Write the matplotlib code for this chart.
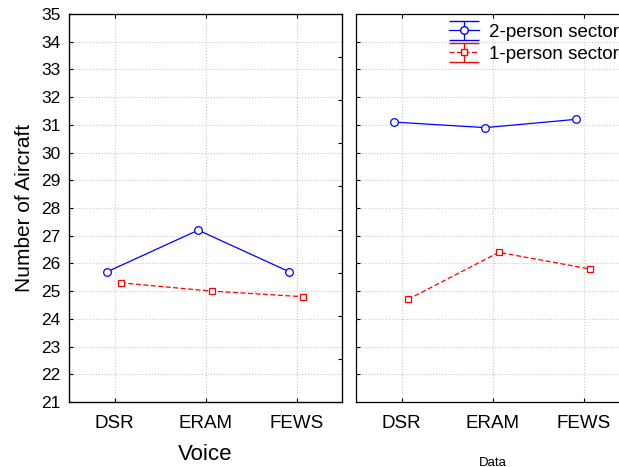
import numpy as np
import matplotlib
matplotlib.use("Agg")
import matplotlib.pyplot as plt

plt.rcParams['font.family'] = ['Liberation Sans', 'DejaVu Sans']

### data ###
sites = ["DSR", "ERAM", "FEWS"]
panels = ["Voice", "Data"]
two_person = {"Voice": [25.7, 27.2, 25.7], "Data": [31.1, 30.9, 31.2]}
one_person = {"Voice": [25.3, 25.0, 24.8], "Data": [24.7, 26.4, 25.8]}

fig = plt.figure(figsize=(6.19, 4.67), dpi=100)
ax1 = fig.add_axes([69/619, 1-402/467, 273/619, 388/467])
ax2 = fig.add_axes([356/619, 1-402/467, 273/619, 388/467])

x = np.arange(len(sites))
for ax, name in zip([ax1, ax2], panels):
    ax.plot(x - 0.08, two_person[name], color='blue', lw=0.9, marker='o', ms=5.5,
            mfc='white', mec='blue', mew=0.9)
    ax.plot(x + 0.07, one_person[name], color='red', lw=0.9, ls=(0, (4, 2)), marker='s',
            ms=5, mfc='white', mec='red', mew=0.9)
    ax.set_xlim(-0.5, 2.5)
    ax.set_ylim(21, 35)
    ax.set_yticks(np.arange(21, 36))
    ax.set_xticks(x)
    ax.set_xticklabels(sites, fontsize=13.5)
    ax.grid(True, color='#c8c8c8', ls=':', lw=0.8)
    ax.tick_params(axis='both', direction='in', length=3, width=0.8, top=True)
    ax.tick_params(axis='x', pad=9)
    for s in ax.spines.values():
        s.set_linewidth(0.9)

ax1.tick_params(axis='y', labelsize=12.5, pad=6)
ax1.set_ylabel("Number of Aircraft", fontsize=15, labelpad=5)
ax1.set_xlabel("Voice", fontsize=16, labelpad=9)
ax2.tick_params(axis='y', labelleft=False)
ax2.set_xlabel("Data", fontsize=9.5, labelpad=18)

# extra inward ticks on right side of left panel
tw = ax1.twinx()
tw.set_ylim(0, 9)
tw.set_yticks(np.arange(1, 9))
tw.tick_params(axis='y', direction='in', length=3, width=0.8, labelright=False)

# legend with errorbar glyphs
h1 = ax2.errorbar([np.nan], [np.nan], yerr=[1], color='blue', lw=0.9, marker='o', ms=5.5,
                  mfc='white', mec='blue', capsize=11, label="2-person sector")
h2 = ax2.errorbar([np.nan], [np.nan], yerr=[1], color='red', lw=0.9, ls=(0, (4, 2)), marker='s',
                  ms=5, mfc='white', mec='red', capsize=11, label="1-person sector")
ax2.legend(handles=[h1, h2], loc='upper left', bbox_to_anchor=(0.28, 1.018), frameon=False,
           fontsize=13.5, handlelength=1.6, handletextpad=0.5, labelspacing=0.25)

fig.savefig("out.png", dpi=100)
